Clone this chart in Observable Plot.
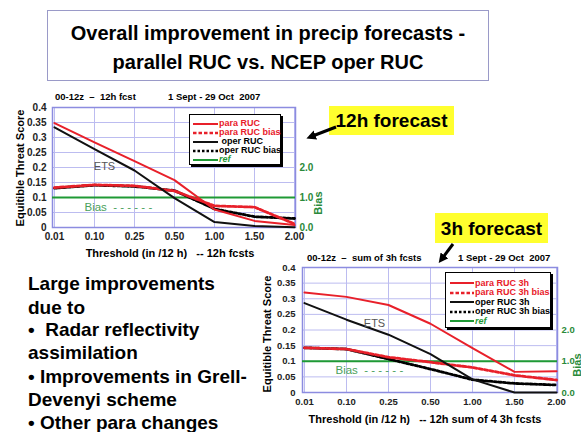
<!DOCTYPE html>
<html><head><meta charset="utf-8">
<script src="https://cdn.jsdelivr.net/npm/d3@7"></script>
<script src="https://cdn.jsdelivr.net/npm/@observablehq/plot@0.6"></script>
<style>
html,body{margin:0;padding:0;background:#fff;}
#slide{position:relative;width:581px;height:432px;overflow:hidden;background:#fff;font-family:"Liberation Sans",Arial,Helvetica,sans-serif;color:#000;}
.abs{position:absolute;white-space:pre;line-height:1;}
.plot{position:absolute;}
.legend{position:absolute;background:#fff;border:1px solid #000;box-shadow:2px 2px 0 #000;}
.legend .row{position:absolute;left:0;white-space:pre;line-height:1;font-weight:bold;font-size:9px;}
</style></head>
<body><div id="slide"></div>
<script>
// ---------------- data ----------------
const categories = ["0.01", "0.10", "0.25", "0.50", "1.00", "1.50", "2.00"];
const yTickLabels = ["0", "0.05", "0.1", "0.15", "0.2", "0.25", "0.3", "0.35", "0.4"];
const yTicks = yTickLabels.map(Number);
const biasTickLabels = ["0.0", "1.0", "2.0"];
const biasTicks = biasTickLabels.map(Number);
const refBias = 1.0;

// 12h forecast: ETS and bias
const paraRUC12 = [0.348, 0.284, 0.221, 0.158, 0.060, 0.022, 0.008];
const operRUC12 = [0.334, 0.261, 0.190, 0.098, 0.018, 0.005, 0.001];
const paraBias12 = [1.33, 1.42, 1.39, 1.22, 0.72, 0.68, 0.12];
const operBias12 = [1.31, 1.41, 1.37, 1.23, 0.62, 0.36, 0.30];

// 3h forecast (sum of 4 x 3h): ETS and bias
const paraRUC3 = [0.320, 0.306, 0.280, 0.220, 0.142, 0.066, 0.068];
const operRUC3 = [0.286, 0.233, 0.185, 0.123, 0.042, 0.000, 0.000];
const paraBias3 = [1.43, 1.39, 1.13, 0.97, 0.80, 0.55, 0.40];
const operBias3 = [1.43, 1.39, 1.07, 0.75, 0.41, 0.29, 0.24];

const legend12 = ["para RUC", "para RUC bias", " oper RUC", "oper RUC bias", "ref"];
const legend3 = ["para RUC 3h", "para RUC 3h bias", "oper RUC 3h", "oper RUC 3h bias", "ref"];

// ---------------- styles ----------------
const FONT = "'Liberation Sans', Arial, Helvetica, sans-serif";
const RED = "#e8202a", GREEN = "#1f9a35", GREENTXT = "#2a8a3a", GRID = "#bcbcf0", FRAME = "#8c8ce0";
const BIAS_PER_ETS = 10; // right axis: bias 1.0 == ETS 0.1

const slide = document.getElementById("slide");

function addText(t, x, y, o = {}) {
  const d = document.createElement("div");
  d.className = "abs";
  d.textContent = t;
  d.style.left = x + "px";
  d.style.top = y + "px";
  d.style.fontSize = (o.size || 10) + "px";
  d.style.fontWeight = o.weight || "bold";
  d.style.color = o.color || "#000";
  if (o.italic) d.style.fontStyle = "italic";
  const tx = o.anchor === "start" ? "0" : o.anchor === "end" ? "-100%" : "-50%";
  d.style.transform = `translate(${tx},-50%)`;
  if (o.rotate) { d.style.transform = `translate(-50%,-50%) rotate(${o.rotate}deg)`; }
  slide.appendChild(d);
  return d;
}

function chart(o) {
  const rows = vals => categories.map((c, i) => ({x: c, v: vals[i]}));
  const fs = o.fs;
  const svg = Plot.plot({
    width: o.w, height: o.h,
    marginLeft: o.ml, marginRight: o.mr, marginTop: o.mt, marginBottom: o.mb,
    x: {type: "point", domain: categories, padding: 0},
    y: {domain: [0, 0.4]},
    style: {fontFamily: FONT, background: "transparent", overflow: "visible"},
    marks: [
      Plot.gridY(yTicks, {stroke: GRID, strokeOpacity: 1, strokeWidth: 1}),
      Plot.gridX(categories, {stroke: GRID, strokeOpacity: 1, strokeWidth: 1}),
      Plot.frame({stroke: FRAME, strokeWidth: 1.5}),
      Plot.ruleY([refBias / BIAS_PER_ETS], {stroke: GREEN, strokeWidth: 2}),
      Plot.line(rows(o.operBias), {x: "x", y: d => d.v / BIAS_PER_ETS, stroke: "#000", strokeWidth: 2.8, strokeDasharray: "2.5,2"}),
      Plot.line(rows(o.paraBias), {x: "x", y: d => d.v / BIAS_PER_ETS, stroke: RED, strokeWidth: 2.8, strokeDasharray: "3.5,2"}),
      Plot.line(rows(o.oper), {x: "x", y: "v", stroke: "#111", strokeWidth: 2}),
      Plot.line(rows(o.para), {x: "x", y: "v", stroke: RED, strokeWidth: 2}),
      Plot.text(["ETS"], {x: () => o.ets.cat, y: () => o.ets.y, dx: o.ets.dx, text: d => d, fill: "#555", fontSize: 11, fontWeight: "normal"}),
      Plot.text(["Bias  - - - - - -"], {x: () => o.bias.cat, y: () => o.bias.y, dx: o.bias.dx, text: d => d, fill: "#4a9f5c", fontSize: 11.5, fontWeight: "normal", textAnchor: "start"}),
      Plot.axisX({anchor: "bottom", tickSize: 0, tickPadding: o.xpad, fontSize: fs, fontWeight: "bold", label: null, fill: "#222"}),
      Plot.axisY(yTicks, {anchor: "left", tickSize: 0, tickPadding: o.ypad, fontSize: fs, fontWeight: "bold", label: null, fill: "#222",
        tickFormat: d => yTickLabels[yTicks.findIndex(t => Math.abs(t - d) < 1e-9)]}),
      Plot.axisY(biasTicks.map(b => b / BIAS_PER_ETS), {anchor: "right", tickSize: 0, tickPadding: 4, fontSize: fs, fontWeight: "bold", label: null, fill: GREENTXT,
        tickFormat: d => biasTickLabels[biasTicks.findIndex(b => Math.abs(b / BIAS_PER_ETS - d) < 1e-9)]})
    ]
  });
  svg.classList.add("plot");
  svg.style.left = o.left + "px";
  svg.style.top = o.top + "px";
  slide.appendChild(svg);
}

function legend(names, box) {
  const styles = [
    {stroke: RED, dash: null, color: RED, w: 2},
    {stroke: RED, dash: "3.5,2", color: RED, w: 2.6},
    {stroke: "#111", dash: null, color: "#000", w: 2},
    {stroke: "#000", dash: "2.5,2", color: "#000", w: 2.6},
    {stroke: GREEN, dash: null, color: GREEN, w: 2, italic: true}
  ];
  const L = document.createElement("div");
  L.className = "legend";
  Object.assign(L.style, {left: box.x + "px", top: box.y + "px", width: box.w + "px", height: box.h + "px"});
  names.forEach((n, i) => {
    const s = styles[i];
    const r = document.createElement("div");
    r.className = "row";
    r.style.top = (box.first + i * box.step - 5) + "px";
    r.style.left = box.sx + "px";
    r.style.height = "10px";
    r.innerHTML = `<svg width="${box.sw}" height="10" style="vertical-align:top"><line x1="0" x2="${box.sw}" y1="5" y2="5" stroke="${s.stroke}" stroke-width="${s.w}" ${s.dash ? `stroke-dasharray="${s.dash}"` : ""}/></svg>`;
    const t = document.createElement("span");
    t.textContent = n;
    t.style.color = s.color;
    t.style.position = "relative";
    t.style.top = "0.5px";
    t.style.marginLeft = "1px";
    if (s.italic) t.style.fontStyle = "italic";
    r.appendChild(t);
    L.appendChild(r);
  });
  slide.appendChild(L);
}

// ---------------- title ----------------
const tb = document.createElement("div");
Object.assign(tb.style, {position: "absolute", left: "47px", top: "10px", width: "440px", height: "69px", border: "1.5px solid #9a9ac8", background: "#fff"});
slide.appendChild(tb);
addText("Overall improvement in precip forecasts -", 268, 33, {size: 20});
addText("parallel RUC vs. NCEP oper RUC", 268, 62, {size: 20});

// ---------------- chart 1 (12h) ----------------
chart({left: 0, top: 90, w: 330, h: 170, ml: 52, mr: 35, mt: 17, mb: 33, fs: 10, xpad: 5, ypad: 6,
  para: paraRUC12, oper: operRUC12, paraBias: paraBias12, operBias: operBias12,
  ets: {cat: "0.10", y: 0.203, dx: 10}, bias: {cat: "0.01", y: 0.067, dx: 30}});
addText("00-12z  \u2013  12h fcst", 55, 97, {size: 9.5, anchor: "start"});
addText("1 Sept - 29 Oct  2007", 168, 97, {size: 9.5, anchor: "start"});
addText("Threshold (in /12 h)   -- 12h fcsts", 170, 253, {size: 11});
addText("Equitible Threat Score", 20, 168, {size: 11, rotate: -90});
addText("Bias", 318, 203, {size: 11, rotate: -90, color: GREENTXT});
legend(legend12, {x: 189, y: 114, w: 90, h: 49, first: 8.7, step: 9, sx: 3, sw: 25});

// ---------------- chart 2 (3h) ----------------
chart({left: 270, top: 250, w: 311, h: 182, ml: 32, mr: 24, mt: 17, mb: 40, fs: 9.5, xpad: 6, ypad: 7,
  para: paraRUC3, oper: operRUC3, paraBias: paraBias3, operBias: operBias3,
  ets: {cat: "0.25", y: 0.22, dx: -14}, bias: {cat: "0.01", y: 0.07, dx: 31}});
addText("00-12z  \u2013  sum of 3h fcsts", 307, 258, {size: 9.5, anchor: "start"});
addText("1 Sept - 29 Oct  2007", 458, 258, {size: 9.5, anchor: "start"});
addText("Threshold (in /12 h)   -- 12h sum of 4 3h fcsts", 425, 419, {size: 11});
addText("Equitible Threat Score", 267, 334, {size: 11, rotate: -90});
addText("Bias", 577, 365, {size: 11, rotate: -90, color: GREENTXT});
legend(legend3, {x: 445, y: 272, w: 104, h: 54, first: 10, step: 9.5, sx: 4, sw: 24});

// ---------------- callouts ----------------
function callout(t, x, y, w, h) {
  const d = document.createElement("div");
  d.className = "abs";
  Object.assign(d.style, {left: x + "px", top: y + "px", width: w + "px", height: h + "px", background: "#ffff2e",
    fontSize: "19px", fontWeight: "bold", display: "flex", alignItems: "center", justifyContent: "center"});
  d.textContent = t;
  slide.appendChild(d);
}
callout("12h forecast", 329, 106, 125, 29);
callout("3h forecast", 435, 213, 113, 30);

const ns = "http://www.w3.org/2000/svg";
const arr = document.createElementNS(ns, "svg");
arr.setAttribute("width", 581); arr.setAttribute("height", 432);
arr.style.position = "absolute"; arr.style.left = "0"; arr.style.top = "0"; arr.style.pointerEvents = "none";
arr.innerHTML = `<defs><marker id="ah" viewBox="0 0 10 10" refX="6" refY="5" markerWidth="3.2" markerHeight="3.2" orient="auto"><path d="M0,0L10,5L0,10z" fill="#000"/></marker></defs>
<line x1="336" y1="127" x2="310" y2="137" stroke="#000" stroke-width="3" marker-end="url(#ah)"/>
<line x1="453" y1="244" x2="441" y2="260" stroke="#000" stroke-width="3" marker-end="url(#ah)"/>`;
slide.appendChild(arr);

// ---------------- left text ----------------
const bullets = [
  ["Large improvements", 28, 283],
  ["due to", 28, 307],
  ["\u2022  Radar reflectivity", 28, 329],
  ["assimilation", 28, 352],
  ["\u2022 Improvements in Grell-", 28, 376],
  ["Devenyi scheme", 28, 399],
  ["\u2022 Other para changes", 28, 422]
];
bullets.forEach(([t, x, y]) => addText(t, x, y, {size: 19, anchor: "start"}));
</script>
</body></html>
